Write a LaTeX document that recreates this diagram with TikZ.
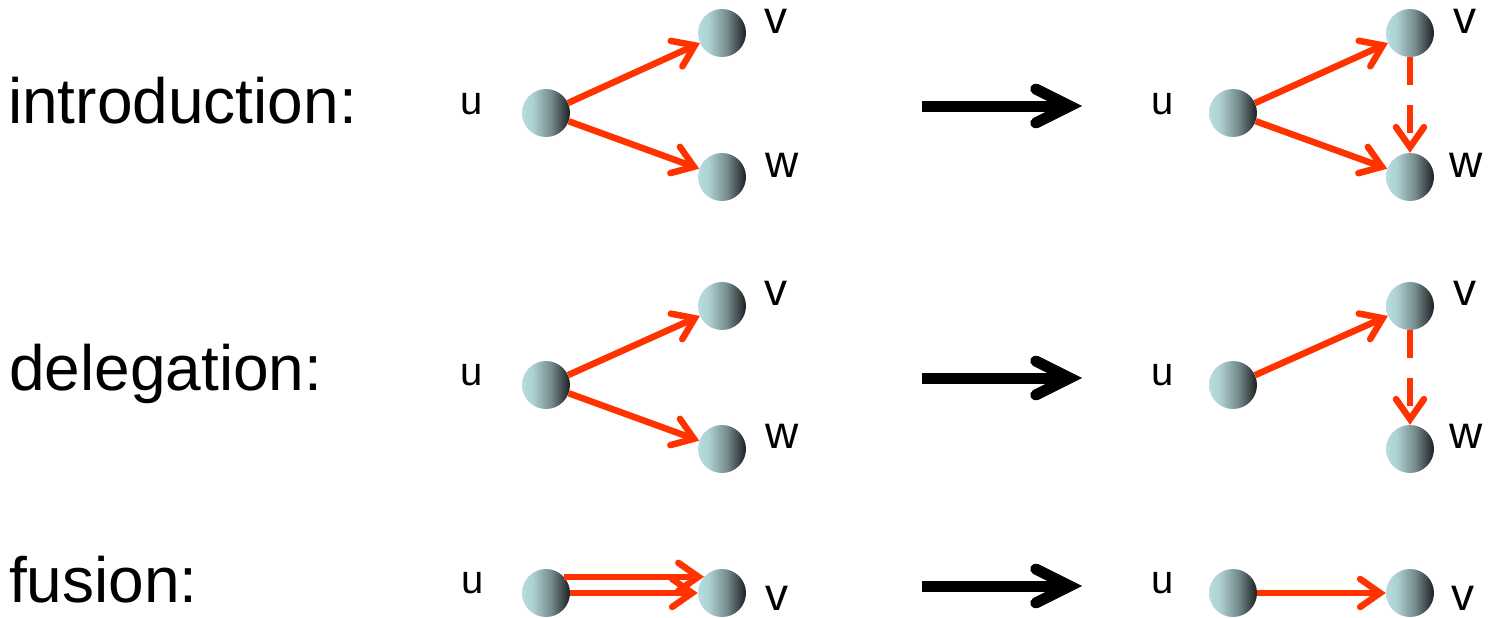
\documentclass[tikz,border=0pt]{standalone}
\usepackage{fontspec}
\setmainfont{Liberation Sans}
\usetikzlibrary{arrows.meta}
\definecolor{edgered}{RGB}{255,51,0}
\definecolor{ballL}{RGB}{184,220,224}
\definecolor{ballM}{RGB}{118,140,143}
\definecolor{ballR}{RGB}{28,32,32}
\pgfdeclarehorizontalshading{ballshade}{100bp}{color(0bp)=(ballL); color(25bp)=(ballL); color(36bp)=(ballL!85!ballM); color(55bp)=(ballM); color(75bp)=(ballR); color(100bp)=(ballR)}
\begin{document}
\begin{tikzpicture}[x=1pt,y=-1pt,
  ball/.style={circle, minimum size=48pt, inner sep=0pt, shade, shading=ballshade},
  lblu/.style={font=\fontsize{40}{44}\selectfont, anchor=base, inner sep=0pt, text height=0.55em, text depth=0pt},
  lbl/.style={font=\fontsize{46}{50}\selectfont, anchor=base, inner sep=0pt, text height=0.55em, text depth=0pt},
  title/.style={font=\fontsize{64}{70}\selectfont, anchor=base west, inner sep=0pt},
  edge/.style={draw=edgered, line width=6.5pt, -{Straight Barb[length=20pt,width=28pt,line cap=round]}},
  dashedge/.style={edge, dash pattern=on 28pt off 20pt},
  bigarrow/.style={draw=black, line width=11pt, -{Straight Barb[length=34pt,width=34pt,line cap=round]}}]
\useasboundingbox (0,0) rectangle (1491,618);

% titles
\node[title] (t1) at (8,123) {introduction:};
\node[title] (t2) at (9,390) {delegation:};
\node[title] (t3) at (9,602) {fusion:};

% introduction
\node[ball] (u1) at (546,113) {};
\node[ball] (v1) at (722,33) {};
\node[ball] (w1) at (722,177) {};
\node[ball] (u2) at (1233,113) {};
\node[ball] (v2) at (1410,33) {};
\node[ball] (w2) at (1410,177) {};
\node[lblu] (lu1) at (472,114) {u};
\node[lbl] (lv1) at (776,34) {v};
\node[lbl] (lw1) at (782,177) {w};
\node[lblu] (lu2) at (1163,114) {u};
\node[lbl] (lv2) at (1465,34) {v};
\node[lbl] (lw2) at (1466,177) {w};
\draw[edge] (u1) -- (v1);
\draw[edge] (u1) -- (w1);
\draw[edge] (u2) -- (v2);
\draw[edge] (u2) -- (w2);
\draw[dashedge] (v2) -- (w2);

% delegation
\node[ball] (u3) at (546,385) {};
\node[ball] (v3) at (722,306) {};
\node[ball] (w3) at (722,449) {};
\node[ball] (u4) at (1233,385) {};
\node[ball] (v4) at (1410,306) {};
\node[ball] (w4) at (1410,449) {};
\node[lblu] (lu3) at (472,385) {u};
\node[lbl] (lv3) at (776,305) {v};
\node[lbl] (lw3) at (782,448) {w};
\node[lblu] (lu4) at (1163,385) {u};
\node[lbl] (lv4) at (1465,305) {v};
\node[lbl] (lw4) at (1466,448) {w};
\draw[edge] (u3) -- (v3);
\draw[edge] (u3) -- (w3);
\draw[edge] (u4) -- (v4);
\draw[dashedge] (v4) -- (w4);

% fusion
\node[ball] (u5) at (546,593) {};
\node[ball] (v5) at (722,593) {};
\node[ball] (u6) at (1233,593) {};
\node[ball] (v6) at (1410,593) {};
\node[lblu] (lu5) at (473,593) {u};
\node[lbl] (lv5) at (777,610) {v};
\node[lblu] (lu6) at (1163,593) {u};
\node[lbl] (lv6) at (1463,610) {v};
\draw[edge] (u5.42) -- (v5.138);
\draw[edge] (u5.east) -- (v5.west);
\draw[edge] (u6) -- (v6);

% transformation arrows
\coordinate (a1s) at (922,106); \coordinate (a1e) at (1082,106);
\coordinate (a2s) at (922,378); \coordinate (a2e) at (1082,378);
\coordinate (a3s) at (922,586); \coordinate (a3e) at (1082,586);
\draw[bigarrow] (a1s) -- (a1e);
\draw[bigarrow] (a2s) -- (a2e);
\draw[bigarrow] (a3s) -- (a3e);
\end{tikzpicture}
\end{document}
